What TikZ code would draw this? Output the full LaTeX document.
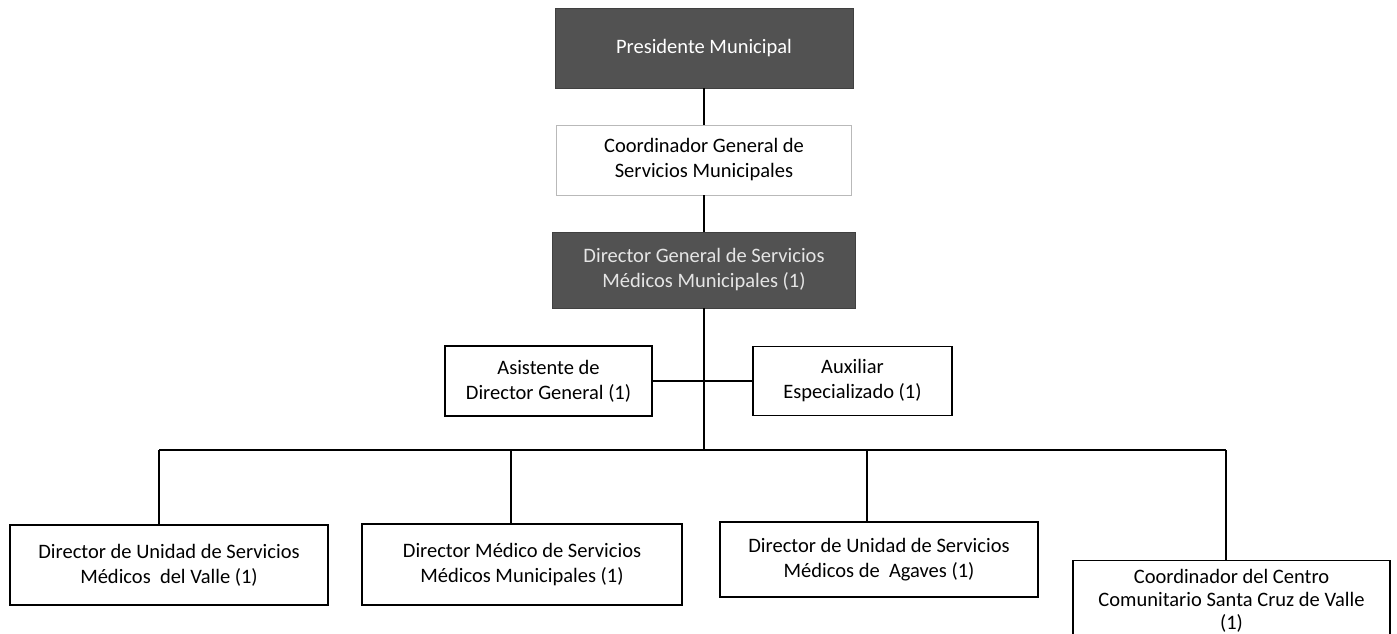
\documentclass[tikz,border=0pt]{standalone}
\usepackage{fontspec}
\setmainfont{Carlito}
\begin{document}
\begin{tikzpicture}[x=1pt,y=-1pt,
  every node/.style={font=\fontsize{20.5}{25}\selectfont, align=center, inner sep=2pt},
  plainbox/.style={draw=black, line width=1.4pt, fill=white, text=black},
  lightbox/.style={draw=gray!55, line width=0.8pt, fill=white, text=black},
  darkbox/.style={draw=black!75, line width=0.8pt, fill=black!68, text=white},
  link/.style={draw=black, line width=1.6pt}]
\useasboundingbox (0,0) rectangle (1397,634);

% top of the chain
\node[darkbox, minimum width=298pt, minimum height=80pt] (pres) at (704,48) {Presidente Municipal};
\node[lightbox, minimum width=295pt, minimum height=70pt] (coord) at (704,160) {Coordinador General de\\Servicios Municipales};
\node[darkbox, text=black!10, minimum width=303pt, minimum height=76pt] (dg) at (704,270) {Director General de Servicios\\Médicos Municipales (1)};

% staff positions beside the trunk
\node[plainbox, minimum width=207pt, minimum height=70pt] (asis) at (548.5,381) {Asistente de\\Director General (1)};
\node[plainbox, minimum width=199pt, minimum height=69pt] (aux) at (852.5,381) {Auxiliar\\Especializado (1)};

% subordinate units
\node[plainbox, minimum width=318pt, minimum height=80pt] (b1) at (169,565) {Director de Unidad de Servicios\\Médicos\ \ del Valle (1)};
\node[plainbox, minimum width=320pt, minimum height=81pt] (b2) at (522,564.5) {Director Médico de Servicios\\Médicos Municipales (1)};
\node[plainbox, minimum width=318pt, minimum height=75pt] (b3) at (879,559.5) {Director de Unidad de Servicios\\Médicos de\ \ Agaves (1)};
\node[plainbox, font=\fontsize{20.5}{23}\selectfont, minimum width=317pt, minimum height=80pt, anchor=north] (b4) at (1231.5,560) {Coordinador del Centro\\Comunitario Santa Cruz de Valle\\(1)};

% junction points on the distribution bar
\coordinate (hub) at (704,450);
\coordinate (j1) at (159,450);
\coordinate (j2) at (511,450);
\coordinate (j3) at (867,450);
\coordinate (j4) at (1226,450);

% connectors
\draw[link] (pres.south) -- (coord.north);
\draw[link] (coord.south) -- (dg.north);
\draw[link] (dg.south) -- (hub);
\draw[link] (asis.east) -- (aux.west);
\draw[link] (j1) -- (j4);
\draw[link] (j1) -- (j1 |- b1.north);
\draw[link] (j2) -- (j2 |- b2.north);
\draw[link] (j3) -- (j3 |- b3.north);
\draw[link] (j4) -- (j4 |- b4.north);
\end{tikzpicture}
\end{document}
